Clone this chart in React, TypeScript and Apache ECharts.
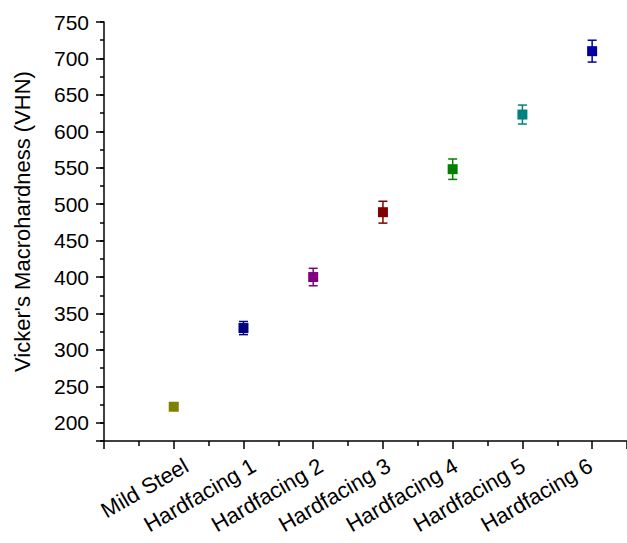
import React, { useEffect, useRef } from "react";
import * as echarts from "echarts";

const categories = ["Mild Steel", "Hardfacing 1", "Hardfacing 2", "Hardfacing 3", "Hardfacing 4", "Hardfacing 5", "Hardfacing 6"];
const hardness = [222, 330, 400, 489, 548, 623, 710];
const errors = [3, 9, 12, 15, 14, 13, 15];
const colors = ["#808000", "#000080", "#800080", "#800000", "#008000", "#008080", "#0000A0"];
const yTicks = [200, 250, 300, 350, 400, 450, 500, 550, 600, 650, 700, 750];

export default function App() {
  const ref = useRef<HTMLDivElement>(null);
  useEffect(() => {
    if (!ref.current) return;
    const chart = echarts.init(ref.current, null, { renderer: "svg" });
    const font = "Liberation Sans, Arial, sans-serif";
    const pts = hardness.map((v, i) => ({
      value: [i + 1, v],
      itemStyle: { color: colors[i], opacity: 1 },
    }));
    const errData = hardness.map((v, i) => [i + 1, v - errors[i], v + errors[i], i]);
    const labelShift = 15;
    chart.setOption({
      animation: false,
      backgroundColor: "#ffffff",
      grid: [
        { left: 104, right: 0, top: 22, bottom: 102, containLabel: false },
        { left: 104 + labelShift, width: 523, top: 22, bottom: 102, containLabel: false },
      ],
      xAxis: [
        {
          type: "value",
          gridIndex: 0,
          min: 0,
          max: 7.5,
          interval: 1,
          splitLine: { show: false },
          axisLine: { show: true, onZero: false, lineStyle: { color: "#000", width: 1.5 } },
          axisTick: { show: true, length: 8, lineStyle: { color: "#000", width: 1.5 } },
          minorTick: { show: true, splitNumber: 2, length: 5, lineStyle: { color: "#000", width: 1.5 } },
          axisLabel: { show: false },
        },
        {
          type: "value",
          gridIndex: 1,
          min: 0,
          max: 7.5,
          interval: 1,
          splitLine: { show: false },
          axisLine: { show: false, onZero: false },
          axisTick: { show: false },
          axisLabel: {
            rotate: 30,
            fontSize: 22,
            color: "#000",
            fontFamily: font,
            margin: 23,
            formatter: (v: number) => (Number.isInteger(v) && v >= 1 && v <= categories.length ? categories[v - 1] : ""),
          },
        },
      ],
      yAxis: [
        {
          type: "value",
          gridIndex: 0,
          min: 175,
          max: 750,
          interval: 25,
          name: "Vicker's Macrohardness (VHN)",
          nameLocation: "middle",
          nameGap: 71,
          nameTextStyle: { fontSize: 22, color: "#000", fontFamily: font, padding: [0, 0, 0, 20] },
          splitLine: { show: false },
          axisLine: { show: true, onZero: false, lineStyle: { color: "#000", width: 1.5 } },
          axisTick: { show: true, length: 4, lineStyle: { color: "#000", width: 1.5 } },
          axisLabel: {
            fontSize: 21,
            color: "#000",
            fontFamily: font,
            margin: 15,
            formatter: (v: number) => (yTicks.includes(v) ? String(v) : ""),
          },
        },
        {
          type: "value",
          gridIndex: 0,
          position: "left",
          inverse: true,
          min: 0,
          max: 575,
          interval: 50,
          splitLine: { show: false },
          axisLine: { show: false, onZero: false },
          axisTick: { show: true, length: 8, lineStyle: { color: "#000", width: 1.5 } },
          axisLabel: { show: false },
        },
        {
          type: "value",
          gridIndex: 1,
          min: 175,
          max: 750,
          show: false,
        },
      ],
      series: [
        {
          type: "custom",
          xAxisIndex: 0,
          yAxisIndex: 0,
          data: errData,
          renderItem: (params: any, api: any) => {
            const x = api.value(0);
            const lo = api.coord([x, api.value(1)]);
            const hi = api.coord([x, api.value(2)]);
            const c = colors[api.value(3)];
            const hw = 4.5;
            const style = { stroke: c, lineWidth: 1.5, fill: "none" };
            return {
              type: "group",
              children: [
                { type: "line", shape: { x1: lo[0], y1: lo[1], x2: hi[0], y2: hi[1] }, style },
                { type: "line", shape: { x1: lo[0] - hw, y1: lo[1], x2: lo[0] + hw, y2: lo[1] }, style },
                { type: "line", shape: { x1: hi[0] - hw, y1: hi[1], x2: hi[0] + hw, y2: hi[1] }, style },
              ],
            };
          },
          z: 2,
        },
        {
          type: "scatter",
          xAxisIndex: 0,
          yAxisIndex: 0,
          symbol: "rect",
          symbolSize: 10,
          itemStyle: { opacity: 1 },
          data: pts,
          z: 3,
        },
      ],
    });
    return () => chart.dispose();
  }, []);
  return <div ref={ref} style={{ width: 627, height: 543, position: "absolute", left: 0, top: 0 }} />;
}
